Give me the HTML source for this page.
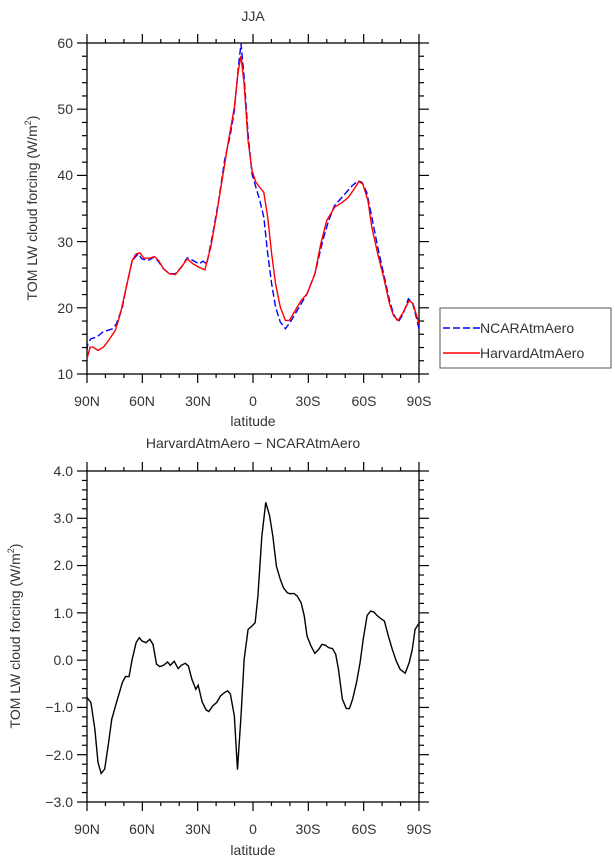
<!DOCTYPE html>
<html><head><meta charset="utf-8"><style>
body{margin:0;background:#fff;}
svg{display:block;font-family:"Liberation Sans",sans-serif;}
text{fill:#333;font-size:14px;}
</style></head><body>
<svg width="615" height="862" viewBox="0 0 615 862">
<!-- ===== TOP PLOT ===== -->
<text x="253" y="21" text-anchor="middle" font-size="15">JJA</text>
<rect x="87" y="43" width="332" height="331" fill="none" stroke="#000" stroke-width="1.3"/>
<g id="topticks" stroke="#000" stroke-width="1.2"></g>
<g font-size="14" text-anchor="end">
<text x="73" y="48">60</text><text x="73" y="114">50</text><text x="73" y="180">40</text>
<text x="73" y="247">30</text><text x="73" y="313">20</text><text x="73" y="379">10</text>
</g>
<g font-size="14" text-anchor="middle">
<text x="87" y="406">90N</text><text x="142" y="406">60N</text><text x="198" y="406">30N</text>
<text x="253" y="406">0</text><text x="308" y="406">30S</text><text x="364" y="406">60S</text><text x="419" y="406">90S</text>
</g>
<text x="253" y="426" text-anchor="middle">latitude</text>
<text transform="translate(37,208) rotate(-90)" text-anchor="middle" font-size="14">TOM LW cloud forcing (W/m<tspan font-size="9" dy="-6">2</tspan><tspan dy="6">)</tspan></text>
<svg x="87" y="43" width="332" height="331" viewBox="220 126 845 995" preserveAspectRatio="none" overflow="hidden">
<polyline fill="none" stroke="#0000ff" stroke-width="1.4" stroke-dasharray="7,3" vector-effect="non-scaling-stroke" points="220,1050 222,1030 230,1015 245,1010 260,995 285,985 295,970 310,920 320,860 335,780 350,760 360,775 375,780 390,770 400,780 415,805 430,820 445,820 460,800 475,772 490,780 505,790 515,782 525,790 540,700 555,600 570,480 585,400 595,330 605,200 612,128 620,230 630,400 640,520 650,560 660,600 670,650 680,760 690,850 700,920 712,965 725,985 740,960 760,920 780,880 800,820 820,720 835,660 850,615 865,595 880,575 895,555 910,540 920,545 932,575 945,650 960,740 975,820 990,900 1000,940 1012,965 1025,940 1038,895 1048,905 1058,950 1065,985"/>
<polyline fill="none" stroke="#ff0000" stroke-width="1.4" vector-effect="non-scaling-stroke" points="220,1075 228,1040 235,1040 248,1050 262,1040 275,1020 292,990 305,940 320,860 335,780 345,760 355,757 365,773 378,773 392,768 402,780 415,805 430,820 445,822 460,800 475,775 490,790 505,800 520,808 535,740 550,640 565,530 580,420 595,320 605,210 612,165 620,250 630,420 640,510 650,545 660,560 670,575 680,650 690,760 700,850 712,920 725,960 735,960 750,930 765,900 780,880 800,820 815,730 830,660 850,620 870,605 885,590 900,565 912,542 922,550 935,600 945,680 960,760 975,830 990,910 1000,945 1012,960 1025,935 1040,900 1050,910 1065,970"/>
</svg>
<!-- legend -->
<rect x="440" y="308" width="171" height="60" fill="none" stroke="#555" stroke-width="1"/>
<line x1="443" y1="328" x2="480" y2="328" stroke="#0000ff" stroke-width="1.4" stroke-dasharray="7,3"/>
<line x1="443" y1="353" x2="480" y2="353" stroke="#ff0000" stroke-width="1.4"/>
<text x="480" y="333" font-size="14">NCARAtmAero</text>
<text x="480" y="358" font-size="14">HarvardAtmAero</text>

<!-- ===== BOTTOM PLOT ===== -->
<text x="253" y="448" text-anchor="middle" font-size="15">HarvardAtmAero − NCARAtmAero</text>
<rect x="87" y="471" width="332" height="331" fill="none" stroke="#000" stroke-width="1.3"/>
<g id="botticks" stroke="#000" stroke-width="1.2"></g>
<g font-size="14" text-anchor="end">
<text x="73" y="476">4.0</text><text x="73" y="523">3.0</text><text x="73" y="570">2.0</text>
<text x="73" y="618">1.0</text><text x="73" y="665">0.0</text><text x="73" y="712">−1.0</text>
<text x="73" y="760">−2.0</text><text x="73" y="807">−3.0</text>
</g>
<g font-size="14" text-anchor="middle">
<text x="87" y="834">90N</text><text x="142" y="834">60N</text><text x="198" y="834">30N</text>
<text x="253" y="834">0</text><text x="308" y="834">30S</text><text x="364" y="834">60S</text><text x="419" y="834">90S</text>
</g>
<text x="253" y="855" text-anchor="middle">latitude</text>
<text transform="translate(20,636) rotate(-90)" text-anchor="middle" font-size="14">TOM LW cloud forcing (W/m<tspan font-size="9" dy="-6">2</tspan><tspan dy="6">)</tspan></text>
<svg x="87" y="471" width="332" height="331" viewBox="220 124 845 995" preserveAspectRatio="none" overflow="hidden">
<polyline fill="none" stroke="#000" stroke-width="1.4" vector-effect="non-scaling-stroke" points="220,805 230,820 240,900 248,1000 256,1033 265,1020 275,940 283,870 295,820 300,800 310,760 318,742 327,742 335,690 345,640 353,625 360,635 370,640 380,630 388,645 397,705 405,712 415,708 425,698 432,708 442,696 452,718 460,708 470,702 478,710 487,750 497,780 503,768 513,818 523,842 530,847 540,830 550,820 560,800 570,790 578,785 585,795 595,860 603,1022 612,860 620,690 630,600 640,590 648,580 655,500 665,320 675,218 685,260 693,320 702,410 712,450 720,475 730,490 737,493 747,492 755,500 765,520 773,560 780,620 790,650 800,672 810,660 818,645 827,648 835,655 845,658 853,675 860,720 870,810 880,838 888,838 896,810 906,760 915,700 923,630 933,558 942,545 950,548 958,558 967,567 977,575 987,620 997,660 1007,695 1017,720 1030,732 1040,700 1048,660 1055,600 1065,582"/>
</svg>
</svg>
<script>
function ticks(id,top,bot,ymaj,ymin){
  var g=document.getElementById(id),s='';
  var L=87,R=419,W=332;
  for(var d=0;d<=180;d+=10){var x=L+d/180*W,m=(d%30==0)?9:4;
    s+='<line x1="'+x+'" y1="'+bot+'" x2="'+x+'" y2="'+(bot+m)+'"/>';
    s+='<line x1="'+x+'" y1="'+top+'" x2="'+x+'" y2="'+(top-m)+'"/>';}
  for(var i=0;i<=ymin;i++){var y=top+i/ymin*(bot-top),m=(i%(ymin/ymaj)==0)?10:5;
    s+='<line x1="'+L+'" y1="'+y+'" x2="'+(L-m)+'" y2="'+y+'"/>';
    s+='<line x1="'+R+'" y1="'+y+'" x2="'+(R+m)+'" y2="'+y+'"/>';}
  g.innerHTML=s;
}
ticks('topticks',43,374,5,25);
ticks('botticks',471,802,7,35);
</script>
</body></html>
